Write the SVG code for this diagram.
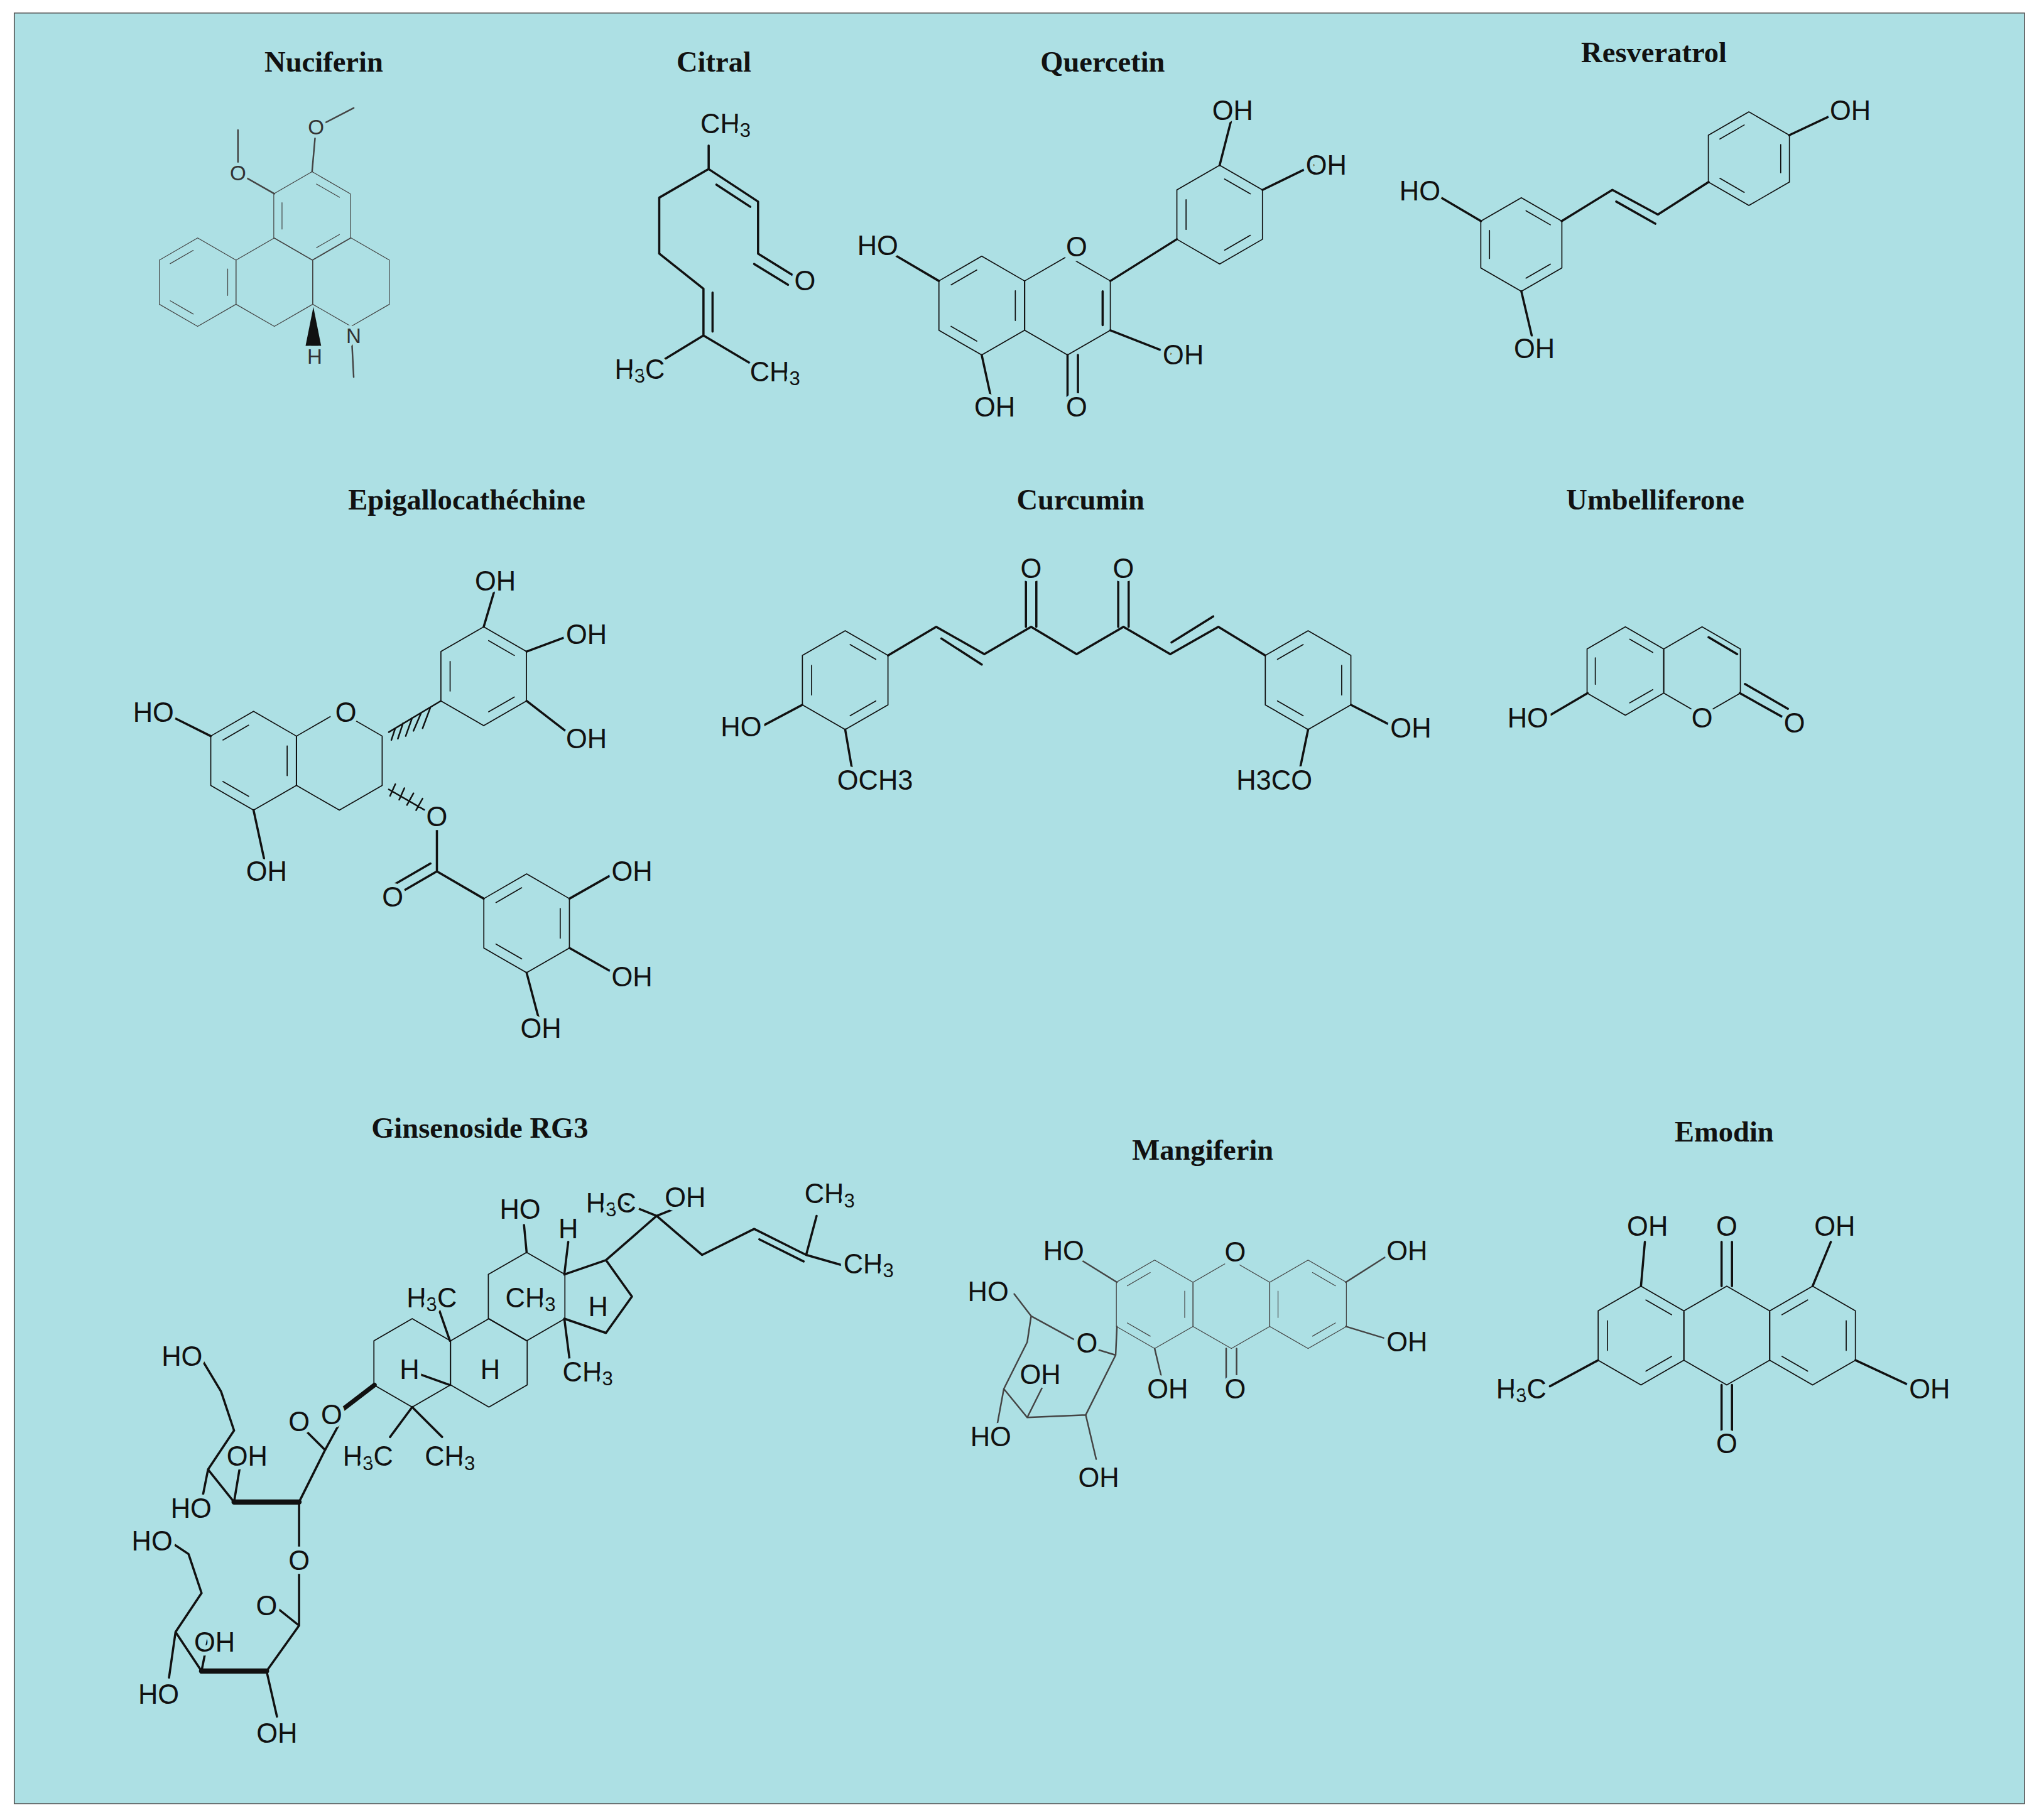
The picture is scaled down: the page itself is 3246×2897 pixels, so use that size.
<svg xmlns="http://www.w3.org/2000/svg" xmlns:xlink="http://www.w3.org/1999/xlink" width="3246" height="2897" viewBox="0 0 3246 2897">
<style>
.b{fill:none;stroke:#111;stroke-width:1.7;stroke-linecap:round;stroke-linejoin:round}
.g{fill:none;stroke:#444;stroke-width:1.2;stroke-linecap:round;stroke-linejoin:round}
.t{font-family:"Liberation Serif",serif;font-weight:bold;font-size:22.5px;fill:#111;text-anchor:middle}
.l{font-family:"Liberation Sans",Arial,sans-serif;font-size:21px;fill:#111;text-anchor:middle;dominant-baseline:central;stroke:#ade0e4;stroke-width:6px;paint-order:stroke}
.s{font-family:"Liberation Sans",Arial,sans-serif;font-size:16px;fill:#333;text-anchor:middle;dominant-baseline:central;stroke:#ade0e4;stroke-width:5px;paint-order:stroke}
.m{fill:#ade0e4;stroke:none}
.h{vector-effect:non-scaling-stroke}
</style>
<defs>
<path id="hx" class="h" d="M0,-1 L0.866,-0.5 L0.866,0.5 L0,1 L-0.866,0.5 L-0.866,-0.5 Z"/>
<path id="a1" class="h" d="M0.1,-0.72 L0.62,-0.42 M0.62,0.42 L0.1,0.72 M-0.68,0.3 L-0.68,-0.3"/>
<path id="a2" class="h" d="M0.68,-0.3 L0.68,0.3 M-0.1,0.72 L-0.62,0.42 M-0.62,-0.42 L-0.1,-0.72"/>
</defs>
<rect width="3246" height="2897" fill="#fff"/>
<g transform="scale(2.07)">
<rect x="11" y="10" width="1546" height="1377" fill="#ade0e4" stroke="#555" stroke-width="0.8"/>

<g id="titles">
<text class="t" x="249" y="55">Nuciferin</text>
<text class="t" x="549" y="55">Citral</text>
<text class="t" x="848" y="55">Quercetin</text>
<text class="t" x="1272" y="48">Resveratrol</text>
<text class="t" x="359" y="392">Epigallocathéchine</text>
<text class="t" x="831" y="392">Curcumin</text>
<text class="t" x="1273" y="392">Umbelliferone</text>
<text class="t" x="369" y="875">Ginsenoside RG3</text>
<text class="t" x="925" y="892">Mangiferin</text>
<text class="t" x="1326" y="878">Emodin</text>
</g>

<g id="nuciferin" class="g" stroke="#444" stroke-width="2.4">
<use href="#hx" transform="translate(152,217) scale(34)"/>
<use href="#a2" transform="translate(152,217) scale(34)"/>
<use href="#hx" transform="translate(211,217) scale(34)"/>
<use href="#hx" transform="translate(240,166) scale(34)"/>
<use href="#a1" transform="translate(240,166) scale(34)"/>
<use href="#hx" transform="translate(270,217) scale(34)"/>
<path d="M211,149 L183,133 L183,100 M240,132 L243,98 L272,83"/>
<path d="M241,236 L235,266 L247,266 Z" fill="#111" stroke="none"/>
<path d="M270,251 L272,290"/>
<circle class="m" cx="183" cy="133" r="7"/>
<circle class="m" cx="243" cy="98" r="7"/>
<circle class="m" cx="272" cy="258" r="7"/>
<text class="s" x="183" y="133">O</text>
<text class="s" x="243" y="98">O</text>
<text class="s" x="272" y="258">N</text>
<text class="s" x="242" y="274">H</text>
</g>

<g id="citral" class="b" stroke="#222">
<path d="M545,112 L545,130 L507,152 L507,195 L541,222 L541,258 M545,130 L583,155 L583,195 L612,213 M551,142 L577,159 M580,203 L606,219 M548,225 L548,255 M541,258 L505,280 M541,258 L578,280"/>
<text class="l" x="558" y="95">CH<tspan font-size="15" dy="5">3</tspan></text>
<text class="l" x="619" y="216">O</text>
<text class="l" x="492" y="284">H<tspan font-size="15" dy="5">3</tspan><tspan dy="-5">C</tspan></text>
<text class="l" x="596" y="286">CH<tspan font-size="15" dy="5">3</tspan></text>
</g>

<g id="quercetin" class="b">
<use href="#hx" transform="translate(755,235) scale(38)"/>
<use href="#a2" transform="translate(755,235) scale(38)"/>
<use href="#hx" transform="translate(821,235) scale(38)"/>
<use href="#hx" transform="translate(938,165) scale(38)"/>
<use href="#a1" transform="translate(938,165) scale(38)"/>
<path d="M854,216 L905,184 M848,224 L848,250 M722,216 L688,196 M938,127 L948,88 M971,146 L1010,127 M854,254 L900,272 M821,273 L821,305 M829,273 L829,305 M755,273 L762,305"/>
<circle class="m" cx="826" cy="192" r="9"/>
<text class="l" x="828" y="190">O</text>
<text class="l" x="675" y="189">HO</text>
<text class="l" x="948" y="85">OH</text>
<text class="l" x="1020" y="127">OH</text>
<text class="l" x="910" y="273">OH</text>
<text class="l" x="828" y="313">O</text>
<text class="l" x="765" y="313">OH</text>
</g>

<g id="resveratrol" class="b">
<use href="#hx" transform="translate(1170,188) scale(36)"/>
<use href="#a1" transform="translate(1170,188) scale(36)"/>
<use href="#hx" transform="translate(1345,122) scale(36)"/>
<use href="#a2" transform="translate(1345,122) scale(36)"/>
<path d="M1201,170 L1240,146 L1275,165 L1314,140 M1243,155 L1273,172 M1139,170 L1105,150 M1170,224 L1178,258 M1376,104 L1410,88"/>
<text class="l" x="1092" y="147">HO</text>
<text class="l" x="1180" y="268">OH</text>
<text class="l" x="1423" y="85">OH</text>
</g>

<g id="epigallocatechine" class="b">
<use href="#hx" transform="translate(195,585) scale(38)"/>
<use href="#a2" transform="translate(195,585) scale(38)"/>
<use href="#hx" transform="translate(261,585) scale(38)"/>
<use href="#hx" transform="translate(372,520) scale(38)"/>
<use href="#a1" transform="translate(372,520) scale(38)"/>
<use href="#hx" transform="translate(405,710) scale(38)"/>
<use href="#a2" transform="translate(405,710) scale(38)"/>
<path d="M162,566 L130,550 M195,623 L203,660 M372,482 L380,455 M405,501 L440,488 M405,539 L440,566 M336,670 L372,691 M336,670 L305,688 M331,664 L300,682 M336,670 L336,636 M438,691 L475,670 M438,729 L475,750 M405,748 L414,782"/>
<path d="M299,563 L339,539 M304,560 L301,569 M310,556 L306,568 M317,552 L312,566 M324,548 L318,562 M331,544 L325,560 M299,607 L332,626 M304,603 L300,612 M311,606 L307,615 M318,610 L313,619 M325,614 L320,623" stroke-width="1.2"/>
<circle class="m" cx="263" cy="549" r="9"/>
<text class="l" x="266" y="548">O</text>
<text class="l" x="118" y="548">HO</text>
<text class="l" x="205" y="670">OH</text>
<text class="l" x="381" y="447">OH</text>
<text class="l" x="451" y="488">OH</text>
<text class="l" x="451" y="568">OH</text>
<text class="l" x="336" y="628">O</text>
<text class="l" x="302" y="690">O</text>
<text class="l" x="486" y="670">OH</text>
<text class="l" x="486" y="751">OH</text>
<text class="l" x="416" y="791">OH</text>
</g>

<g id="curcumin" class="b">
<use href="#hx" transform="translate(650,523) scale(38)"/>
<use href="#a1" transform="translate(650,523) scale(38)"/>
<use href="#hx" transform="translate(1006,523) scale(38)"/>
<use href="#a2" transform="translate(1006,523) scale(38)"/>
<path d="M683,504 L720,482 L757,503 L793,482 L828,503 L864,482 L900,503 L937,482 L973,504 M724,491 L755,511 M901,494 L933,474 M789,482 L789,447 M797,482 L797,447 M860,482 L860,447 M868,482 L868,447 M617,542 L585,559 M650,561 L655,590 M1039,542 L1072,559 M1006,561 L1000,590"/>
<text class="l" x="793" y="437">O</text>
<text class="l" x="864" y="437">O</text>
<text class="l" x="570" y="559">HO</text>
<text class="l" x="673" y="600">OCH3</text>
<text class="l" x="1085" y="560">OH</text>
<text class="l" x="980" y="600">H3CO</text>
</g>

<g id="umbelliferone" class="b">
<use href="#hx" transform="translate(1250,516) scale(34)"/>
<use href="#a1" transform="translate(1250,516) scale(34)"/>
<use href="#hx" transform="translate(1309,516) scale(34)"/>
<path d="M1314,490 L1336,503 M1221,533 L1192,550 M1338,533 L1372,552 M1342,526 L1375,545"/>
<circle class="m" cx="1309" cy="551" r="9"/>
<text class="l" x="1309" y="552">O</text>
<text class="l" x="1175" y="552">HO</text>
<text class="l" x="1380" y="556">O</text>
</g>

<g id="ginsenoside" class="b" stroke-width="1.5">
<use href="#hx" transform="translate(317,1048) scale(34)"/>
<use href="#hx" transform="translate(376,1048) scale(34)"/>
<use href="#hx" transform="translate(405,997) scale(34)"/>
<path d="M434,980 L466,969 L486,997 L466,1025 L434,1014 M466,969 L505,935 L540,965 L580,945 L620,965 L628,935 M584,953 L618,970 M620,965 L655,975 M405,963 L403,942 M434,980 L437,955 M346,1031 L338,1008 M434,1014 L438,1045 M505,935 L530,925 M505,935 L480,925 M346,1065 L318,1055 M317,1082 L300,1105 M317,1082 L340,1105"/>
<path d="M288,1065 L262,1085" stroke-width="3.5"/>
<path d="M180,1100 L160,1130 L180,1155 L230,1155 L250,1115 L230,1095 M180,1100 L170,1070 L155,1045 M160,1130 L155,1155 M180,1155 L185,1125 M230,1155 L230,1195 M250,1115 L262,1093"/>
<path d="M180,1155 L230,1155" stroke-width="4"/>
<path d="M155,1225 L135,1255 L155,1285 L205,1285 L230,1250 L205,1230 M155,1225 L145,1195 L130,1185 M135,1255 L130,1290 M155,1285 L160,1260 M205,1285 L213,1320 M230,1250 L230,1210"/>
<path d="M155,1285 L205,1285" stroke-width="4"/>
<circle class="m" cx="230" cy="1093" r="9"/>
<circle class="m" cx="205" cy="1235" r="9"/>
<circle class="m" cx="255" cy="1088" r="9"/>
<circle class="m" cx="230" cy="1200" r="9"/>
<text class="l" x="400" y="930">HO</text>
<text class="l" x="470" y="925">H<tspan font-size="15" dy="5">3</tspan><tspan dy="-5">C</tspan></text>
<text class="l" x="527" y="921">OH</text>
<text class="l" x="638" y="918">CH<tspan font-size="15" dy="5">3</tspan></text>
<text class="l" x="668" y="972">CH<tspan font-size="15" dy="5">3</tspan></text>
<text class="l" x="437" y="945">H</text>
<text class="l" x="332" y="998">H<tspan font-size="15" dy="5">3</tspan><tspan dy="-5">C</tspan></text>
<text class="l" x="408" y="998">CH<tspan font-size="15" dy="5">3</tspan></text>
<text class="l" x="460" y="1005">H</text>
<text class="l" x="315" y="1053">H</text>
<text class="l" x="377" y="1053">H</text>
<text class="l" x="452" y="1055">CH<tspan font-size="15" dy="5">3</tspan></text>
<text class="l" x="283" y="1120">H<tspan font-size="15" dy="5">3</tspan><tspan dy="-5">C</tspan></text>
<text class="l" x="346" y="1120">CH<tspan font-size="15" dy="5">3</tspan></text>
<text class="l" x="255" y="1088">O</text>
<text class="l" x="140" y="1043">HO</text>
<text class="l" x="230" y="1093">O</text>
<text class="l" x="190" y="1120">OH</text>
<text class="l" x="147" y="1160">HO</text>
<text class="l" x="230" y="1200">O</text>
<text class="l" x="117" y="1185">HO</text>
<text class="l" x="205" y="1235">O</text>
<text class="l" x="165" y="1263">OH</text>
<text class="l" x="122" y="1303">HO</text>
<text class="l" x="213" y="1333">OH</text>
</g>

<g id="mangiferin" class="g" stroke="#333" stroke-width="1.4">
<use href="#hx" transform="translate(888,1003) scale(34)"/>
<use href="#a2" transform="translate(888,1003) scale(34)"/>
<use href="#hx" transform="translate(947,1003) scale(34)"/>
<use href="#hx" transform="translate(1006,1003) scale(34)"/>
<use href="#a1" transform="translate(1006,1003) scale(34)"/>
<path d="M943,1037 L943,1060 M951,1037 L951,1060 M859,986 L830,968 M888,1037 L893,1058 M1035,986 L1068,965 M1035,1020 L1068,1030 M859,1020 L858,1042 L835,1035 L793,1012 L790,1032 L772,1068 L790,1090 L835,1088 L858,1042 M793,1012 L780,995 M790,1090 L805,1060 M772,1068 L767,1095 M835,1088 L843,1122"/>
<circle class="m" cx="948" cy="965" r="9"/>
<circle class="m" cx="836" cy="1033" r="9"/>
<text class="l" x="950" y="963">O</text>
<text class="l" x="950" y="1068">O</text>
<text class="l" x="818" y="962">HO</text>
<text class="l" x="898" y="1068">OH</text>
<text class="l" x="1082" y="962">OH</text>
<text class="l" x="1082" y="1032">OH</text>
<text class="l" x="760" y="993">HO</text>
<text class="l" x="836" y="1033">O</text>
<text class="l" x="800" y="1057">OH</text>
<text class="l" x="762" y="1105">HO</text>
<text class="l" x="845" y="1136">OH</text>
</g>

<g id="emodin" class="b" stroke="#222">
<use href="#hx" transform="translate(1262,1027) scale(38)"/>
<use href="#a1" transform="translate(1262,1027) scale(38)"/>
<use href="#hx" transform="translate(1328,1027) scale(38)"/>
<use href="#hx" transform="translate(1394,1027) scale(38)"/>
<use href="#a2" transform="translate(1394,1027) scale(38)"/>
<path d="M1324,989 L1324,955 M1332,989 L1332,955 M1324,1065 L1324,1100 M1332,1065 L1332,1100 M1262,989 L1265,955 M1394,989 L1408,955 M1427,1046 L1470,1066 M1229,1046 L1192,1066"/>
<text class="l" x="1328" y="943">O</text>
<text class="l" x="1328" y="1110">O</text>
<text class="l" x="1267" y="943">OH</text>
<text class="l" x="1411" y="943">OH</text>
<text class="l" x="1484" y="1068">OH</text>
<text class="l" x="1170" y="1068">H<tspan font-size="15" dy="5">3</tspan><tspan dy="-5">C</tspan></text>
</g>
</g>
</svg>
